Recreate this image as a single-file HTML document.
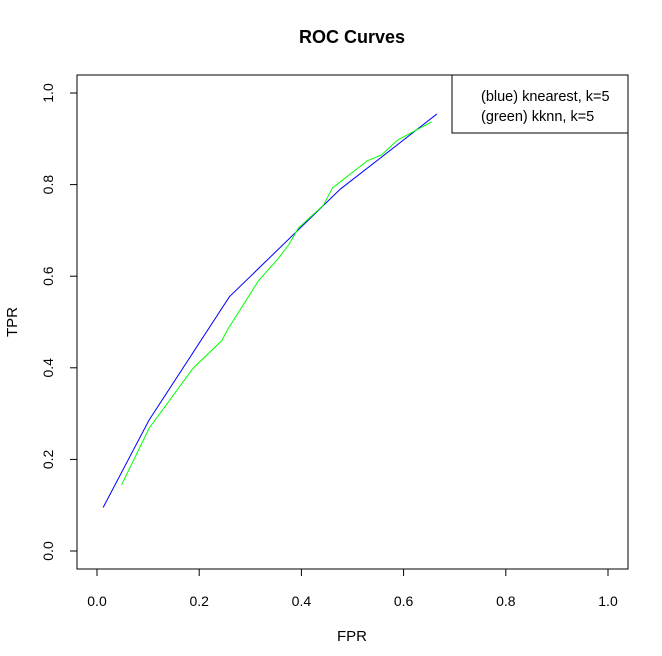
<!DOCTYPE html>
<html><head><meta charset="utf-8"><style>
body{margin:0;background:#fff}
svg{display:block;font-family:"Liberation Sans",sans-serif}
</style></head><body>
<svg id="chart" width="662" height="656">
<text x="352" y="43" text-anchor="middle" font-size="18" font-weight="bold">ROC Curves</text>
<rect x="77" y="75" width="551" height="494" fill="none" stroke="#000"/>
<g id="xaxis"></g>
<g id="yaxis"></g>
<text x="352" y="641" text-anchor="middle" font-size="15">FPR</text>
<text transform="translate(17,322) rotate(-90)" text-anchor="middle" font-size="15">TPR</text>
<g id="series"></g>
<g>
<rect x="452" y="75" width="176" height="58" fill="#fff" stroke="#000"/>
<text x="481" y="101" font-size="14.5">(blue) knearest, k=5</text>
<text x="481" y="121" font-size="14.5">(green) kknn, k=5</text>
</g>
</svg>
<script>
const xTicks=[0,0.2,0.4,0.6,0.8,1.0];
const yTicks=[0,0.2,0.4,0.6,0.8,1.0];
const tickLabels=["0.0","0.2","0.4","0.6","0.8","1.0"];
const blueFpr=[0.012,0.102,0.259,0.476,0.665];
const blueTpr=[0.095,0.286,0.555,0.790,0.954];
const greenFpr=[0.048,0.102,0.188,0.244,0.257,0.316,0.355,0.376,0.394,0.443,0.461,0.529,0.557,0.588,0.618,0.655];
const greenTpr=[0.144,0.268,0.399,0.459,0.486,0.590,0.639,0.670,0.705,0.755,0.793,0.852,0.865,0.897,0.915,0.937];
const NS="http://www.w3.org/2000/svg";
const sx=v=>97+v*511, sy=v=>551-v*458;
function mk(t,a){const e=document.createElementNS(NS,t);for(const k in a)e.setAttribute(k,a[k]);return e;}
const xa=document.getElementById('xaxis'),ya=document.getElementById('yaxis');
xa.appendChild(mk('line',{x1:sx(0),x2:sx(1),y1:569,y2:569,stroke:'#000'}));
xTicks.forEach((v,i)=>{
 const l=mk('line',{x1:sx(v),x2:sx(v),y1:569,y2:576,stroke:'#000'});
 
 
 xa.appendChild(l);
 const t=mk('text',{x:sx(v),y:606,'text-anchor':'middle','font-size':14});
 t.textContent=tickLabels[i];
 
 
 xa.appendChild(t);
});
ya.appendChild(mk('line',{x1:77,x2:77,y1:sy(0),y2:sy(1),stroke:'#000'}));
yTicks.forEach((v,i)=>{
 const l=mk('line',{x1:70,x2:77,y1:sy(v),y2:sy(v),stroke:'#000'});
 
 
 ya.appendChild(l);
 const t=mk('text',{transform:`translate(53,${sy(v)}) rotate(-90)`,'text-anchor':'middle','font-size':14});
 t.textContent=tickLabels[i];
 
 
 ya.appendChild(t);
});
const s=document.getElementById('series');
function line(xs,ys,col,name){
 const p=mk('polyline',{points:xs.map((x,i)=>sx(x)+','+sy(ys[i])).join(' '),fill:'none',stroke:col,'stroke-width':1});
 
 
 s.appendChild(p);
}
line(blueFpr,blueTpr,'#0000ff','knearest-roc-line');
line(greenFpr,greenTpr,'#00ff00','kknn-roc-line');
</script>
</body></html>
